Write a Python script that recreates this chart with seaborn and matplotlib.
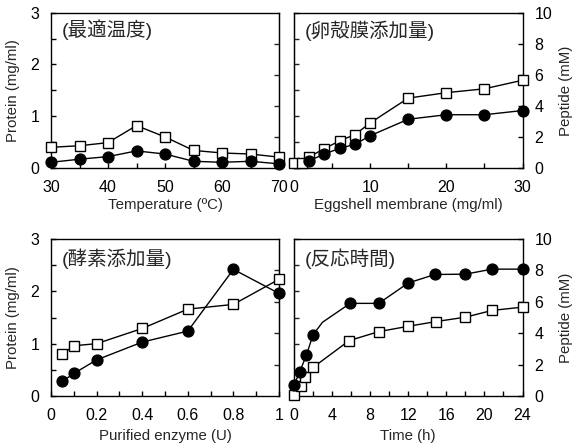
import matplotlib
matplotlib.use("Agg")
import matplotlib.pyplot as plt
from matplotlib.ticker import MultipleLocator, FixedLocator, FuncFormatter
import seaborn as sns
import numpy as np

sns.set_style("ticks")
plt.rcParams['font.family'] = ['Liberation Sans', 'Noto Sans CJK JP', 'DejaVu Sans']

# ---- data ----
temp_x = [30, 35, 40, 45, 50, 55, 60, 65, 70]
temp_sq = [0.40, 0.43, 0.49, 0.82, 0.60, 0.34, 0.29, 0.27, 0.21]
temp_ci = [0.11, 0.17, 0.22, 0.33, 0.27, 0.13, 0.11, 0.13, 0.08]

egg_sq_x = [0, 1, 2, 4, 6, 8, 10, 15, 20, 25, 30]
egg_sq = [0.30, 0.35, 0.72, 1.25, 1.75, 2.15, 2.90, 4.50, 4.85, 5.10, 5.65]
egg_ci_x = [2, 4, 6, 8, 10, 15, 20, 25, 30]
egg_ci = [0.47, 0.90, 1.27, 1.52, 2.08, 3.14, 3.43, 3.43, 3.70]

enz_x = [0.05, 0.1, 0.2, 0.4, 0.6, 0.8, 1.0]
enz_sq = [0.80, 0.96, 1.00, 1.29, 1.66, 1.75, 2.23]
enz_ci = [0.28, 0.43, 0.69, 1.03, 1.24, 2.42, 1.96]

time_ci_x = [0, 0.6, 1.3, 2, 3, 5.9, 8.9, 12, 14.8, 18, 20.8, 24]
time_ci = [0.68, 1.54, 2.60, 3.90, 4.70, 5.90, 5.90, 7.20, 7.74, 7.76, 8.08, 8.08]
time_ci_marked = [0, 1, 2, 3, 5, 6, 7, 8, 9, 10, 11]
time_sq_x = [0, 0.7, 1.2, 2, 5.8, 8.9, 12, 14.9, 18, 20.8, 24]
time_sq = [0.04, 0.64, 1.24, 1.82, 3.53, 4.10, 4.44, 4.74, 5.02, 5.45, 5.66]

titles = ["(最適温度)", "(卵殻膜添加量)", "(酵素添加量)", "(反応時間)"]
xlabels = ["Temperature (ºC)", "Eggshell membrane (mg/ml)", "Purified enzyme (U)", "Time (h)"]
protein_label = "Protein (mg/ml)"
peptide_label = "Peptide (mM)"

W, H = 576, 446
fig = plt.figure(figsize=(W / 100, H / 100), dpi=100)

def rect(l, t, r, b):
    return [l / W, (H - b) / H, (r - l) / W, (b - t) / H]

TICK_FS = 11.5
LAB_FS = 10.8
TITLE_FS = 14

def style(ax):
    for s in ax.spines.values():
        s.set_linewidth(1.0)
        s.set_color("black")
        s.set_visible(True)
    ax.tick_params(which="both", direction="in", length=3.5, width=1.0,
                   labelsize=TICK_FS, colors="black", pad=8.5)

def sq(ax, x, y, **kw):
    sns.lineplot(x=x, y=y, ax=ax, color="black", linewidth=1.0, marker="s",
                 markersize=7.0, markerfacecolor="white", markeredgecolor="black",
                 markeredgewidth=1.0, clip_on=False, zorder=3, sort=False,
                 estimator=None, **kw)

def ci(ax, x, y, **kw):
    sns.lineplot(x=x, y=y, ax=ax, color="black", linewidth=1.0, marker="o",
                 markersize=7.8, markerfacecolor="black", markeredgecolor="black",
                 markeredgewidth=1.0, clip_on=False, zorder=4, sort=False,
                 estimator=None, **kw)

P2Q = (lambda p: np.asarray(p) * 10 / 3, lambda q: np.asarray(q) * 3 / 10)
Q2P = (lambda q: np.asarray(q) * 3 / 10, lambda p: np.asarray(p) * 10 / 3)

# ---- top-left: temperature ----
ax1 = fig.add_axes(rect(51, 12.7, 279, 168))
sq(ax1, temp_x, temp_sq)
ci(ax1, temp_x, temp_ci)
ax1.set_xlim(30, 70)
ax1.set_ylim(0, 3)
ax1.xaxis.set_major_locator(MultipleLocator(10))
ax1.xaxis.set_minor_locator(MultipleLocator(5))
ax1.yaxis.set_major_locator(MultipleLocator(1))
ax1.yaxis.set_minor_locator(MultipleLocator(0.5))
style(ax1)
sec1 = ax1.secondary_yaxis("right", functions=P2Q)
sec1.yaxis.set_major_locator(FixedLocator([2, 4, 6, 8]))
sec1.tick_params(direction="in", length=3.5, width=1.0, labelright=False)
ax1.set_xlabel(xlabels[0], fontsize=LAB_FS)
ax1.set_ylabel(protein_label, fontsize=LAB_FS)
ax1.text(0.045, 0.89, titles[0], transform=ax1.transAxes, fontsize=TITLE_FS,
         va="center", ha="left")

# ---- top-right: eggshell membrane ----
ax2 = fig.add_axes(rect(294, 12.7, 522.5, 168))
sq(ax2, egg_sq_x, egg_sq)
ci(ax2, egg_ci_x, egg_ci)
ax2.set_xlim(0, 30)
ax2.set_ylim(0, 10)
ax2.xaxis.set_major_locator(MultipleLocator(10))
ax2.xaxis.set_minor_locator(MultipleLocator(5))
ax2.yaxis.set_major_locator(MultipleLocator(2))
ax2.yaxis.tick_right()
ax2.yaxis.set_label_position("right")
style(ax2)
ax2.tick_params(axis="y", which="both", left=False, right=True, labelleft=False, labelright=True)
sec2 = ax2.secondary_yaxis("left", functions=Q2P)
sec2.yaxis.set_major_locator(MultipleLocator(0.5))
sec2.tick_params(direction="in", length=3.5, width=1.0, labelleft=False)
ax2.set_xlabel(xlabels[1], fontsize=LAB_FS)
ax2.set_ylabel(peptide_label, fontsize=LAB_FS)
ax2.text(0.045, 0.885, titles[1], transform=ax2.transAxes, fontsize=TITLE_FS,
         va="center", ha="left")

# ---- bottom-left: enzyme ----
ax3 = fig.add_axes(rect(51, 239, 279, 396))
sq(ax3, enz_x, enz_sq)
ci(ax3, enz_x, enz_ci)
ax3.set_xlim(0, 1)
ax3.set_ylim(0, 3)
ax3.xaxis.set_major_locator(MultipleLocator(0.2))
ax3.xaxis.set_minor_locator(MultipleLocator(0.1))
ax3.xaxis.set_major_formatter(FuncFormatter(
    lambda v, p: "0" if abs(v) < 1e-9 else ("1" if abs(v - 1) < 1e-9 else f"{v:.1f}")))
ax3.yaxis.set_major_locator(MultipleLocator(1))
ax3.yaxis.set_minor_locator(MultipleLocator(0.5))
style(ax3)
sec3 = ax3.secondary_yaxis("right", functions=P2Q)
sec3.yaxis.set_major_locator(FixedLocator([2, 4, 6, 8]))
sec3.tick_params(direction="in", length=3.5, width=1.0, labelright=False)
ax3.set_xlabel(xlabels[2], fontsize=LAB_FS)
ax3.set_ylabel(protein_label, fontsize=LAB_FS)
ax3.text(0.045, 0.875, titles[2], transform=ax3.transAxes, fontsize=TITLE_FS,
         va="center", ha="left")

# ---- bottom-right: time ----
ax4 = fig.add_axes(rect(294, 239, 522.5, 396))
sq(ax4, time_sq_x, time_sq)
ci(ax4, time_ci_x, time_ci, markevery=time_ci_marked)
ax4.set_xlim(0, 24)
ax4.set_ylim(0, 10)
ax4.xaxis.set_major_locator(MultipleLocator(4))
ax4.xaxis.set_minor_locator(MultipleLocator(2))
ax4.yaxis.set_major_locator(MultipleLocator(2))
ax4.yaxis.tick_right()
ax4.yaxis.set_label_position("right")
style(ax4)
ax4.tick_params(axis="y", which="both", left=False, right=True, labelleft=False, labelright=True)
sec4 = ax4.secondary_yaxis("left", functions=Q2P)
sec4.yaxis.set_major_locator(MultipleLocator(0.5))
sec4.tick_params(direction="in", length=3.5, width=1.0, labelleft=False)
ax4.set_xlabel(xlabels[3], fontsize=LAB_FS)
ax4.set_ylabel(peptide_label, fontsize=LAB_FS)
ax4.text(0.045, 0.875, titles[3], transform=ax4.transAxes, fontsize=TITLE_FS,
         va="center", ha="left")

# label positions
ax1.yaxis.set_label_coords(-0.136, 0.5)
ax3.yaxis.set_label_coords(-0.136, 0.5)
ax2.yaxis.set_label_coords(1.16, 0.5)
ax4.yaxis.set_label_coords(1.16, 0.5)
ax1.xaxis.set_label_coords(0.5, -0.19)
ax2.xaxis.set_label_coords(0.5, -0.19)
ax3.xaxis.set_label_coords(0.5, -0.21)
ax4.xaxis.set_label_coords(0.5, -0.21)

for ax in (ax1, ax2, ax3, ax4):
    leg = ax.get_legend()
    if leg:
        leg.remove()

fig.savefig("out.png", dpi=100)
